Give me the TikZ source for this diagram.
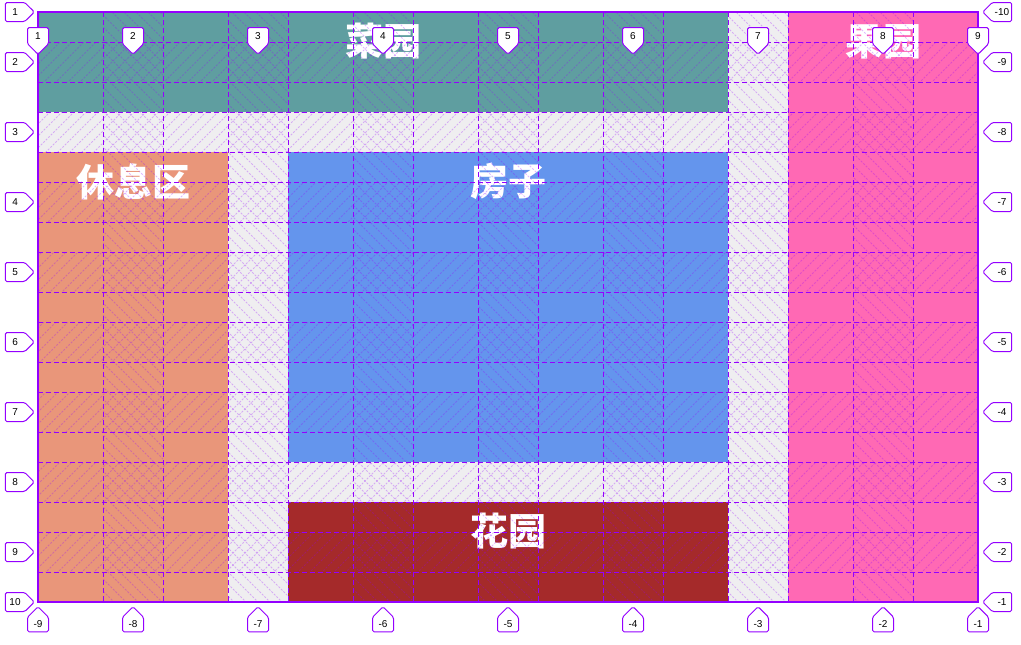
\documentclass[tikz,border=0pt]{standalone}
\usepackage{fontspec}
\setmainfont{Liberation Sans}
\newfontfamily\cjk{Noto Sans CJK SC}
\usetikzlibrary{shapes.symbols}
\definecolor{gridpurple}{HTML}{9400FF}
\definecolor{emptygray}{HTML}{EFEEF0}
\definecolor{vegteal}{HTML}{5F9EA0}
\definecolor{fruitpink}{HTML}{FF69B4}
\definecolor{restsalmon}{HTML}{E9967A}
\definecolor{houseblue}{HTML}{6495ED}
\definecolor{flowerbrown}{HTML}{A52A2A}

\begin{document}
\begin{tikzpicture}[
  x=1pt, y=-1pt,
  gridline/.style={draw=gridpurple, line width=1pt, dash pattern=on 5pt off 3pt},
  hatch/.style={gridpurple, opacity=0.28, line width=1pt, dash pattern=on 2pt off 1.5pt},
  areaname/.style={text=white, inner sep=0pt, font=\cjk\bfseries\fontsize{38}{38}\selectfont},
  tag/.style={shape=signal, draw=gridpurple, fill=white, line width=1pt, rounded corners=1.5pt,
    inner sep=0pt, minimum width=21pt, minimum height=19pt, signal pointer angle=90,
    font=\fontsize{10}{12}\selectfont},
  sidetag/.style={tag, minimum width=29pt},
]
\useasboundingbox (0,0) rectangle (1021,645);

% empty cells
\fill[emptygray] (38,12) rectangle (978,602);

% grid areas
\fill[vegteal] (38,12) rectangle (728,112);
\fill[fruitpink] (788,12) rectangle (978,602);
\fill[restsalmon] (38,152) rectangle (228,602);
\fill[houseblue] (288,152) rectangle (728,462);
\fill[flowerbrown] (288,502) rectangle (728,602);

\node[areaname] (veg) at (383,41.5) {菜园};
\node[areaname] (fruit) at (883,41.5) {果园};
\node[areaname] (rest) at (133,181.5) {休息区};
\node[areaname] (house) at (508,181.5) {房子};
\node[areaname] (flower) at (508,531.5) {花园};

% column gaps
\begin{scope}
  \clip foreach \k in {1,...,7} {(38+\k*125-60,12) rectangle (38+\k*125,602)};
  \foreach \s in {-620,-608,...,1000}
    \draw[hatch] (\s,0) -- (\s+650,650);
\end{scope}

% row gaps
\begin{scope}
  \clip foreach \k in {1,...,8} {(38,12+\k*70-40) rectangle (978,12+\k*70)};
  \foreach \s in {-620,-608,...,1000}
    \draw[hatch] (\s,650) -- (\s+650,0);
\end{scope}

% track edges
\foreach \k in {1,...,7} {
  \draw[gridline] (38+\k*125-60,12) -- (38+\k*125-60,602);
  \draw[gridline] (38+\k*125,12) -- (38+\k*125,602);
}
\foreach \k in {1,...,8} {
  \draw[gridline] (38,12+\k*70-40) -- (978,12+\k*70-40);
  \draw[gridline] (38,12+\k*70) -- (978,12+\k*70);
}
\draw[gridpurple, line width=1.2pt] (38,12) rectangle (978,602);

% line numbers
\foreach \cx [count=\i] in {38,133,258,383,508,633,758,883,978} {
  \node[tag, signal to=south, anchor=south] (top\i) at (\cx,55) {\i};
  \pgfmathtruncatemacro\n{\i-10}
  \node[tag, signal to=north, anchor=north] (bot\i) at (\cx,606) {\n};
}
\foreach \ry [count=\j] in {12,62,132,202,272,342,412,482,552,602} {
  \node[sidetag, signal to=east, anchor=east] (left\j) at (35,\ry) {\j};
  \pgfmathtruncatemacro\n{\j-11}
  \node[sidetag, signal to=west, anchor=west] (right\j) at (982,\ry) {\n};
}
\end{tikzpicture}
\end{document}
